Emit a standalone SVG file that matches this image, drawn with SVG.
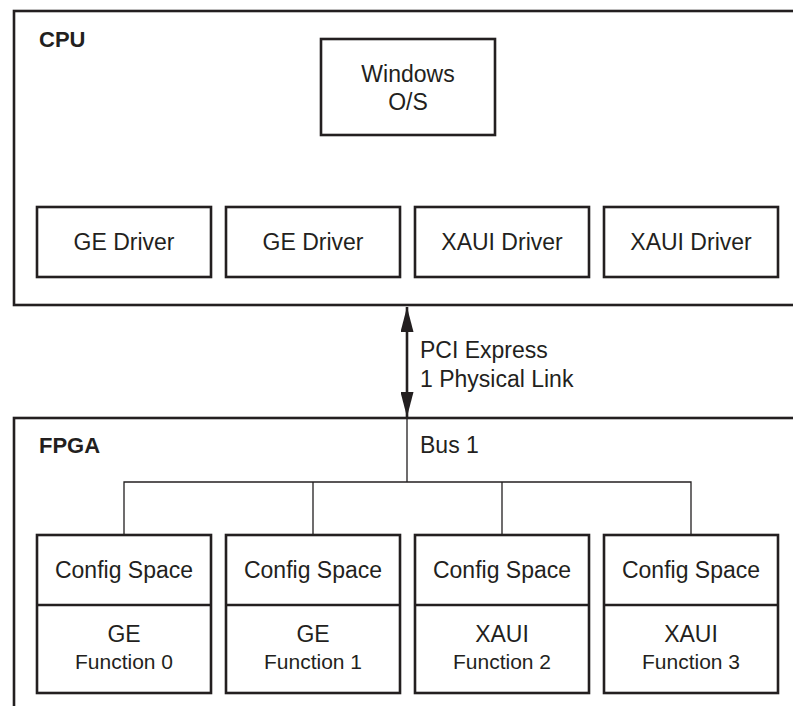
<svg xmlns="http://www.w3.org/2000/svg" width="793" height="706" viewBox="0 0 793 706">
<style>
.box{fill:#fff;stroke:#231f20;stroke-width:2.6}
.t{font-family:"Liberation Sans",Arial,sans-serif;font-size:23px;fill:#231f20;text-anchor:middle}
.s{font-family:"Liberation Sans",Arial,sans-serif;font-size:21px;fill:#231f20;text-anchor:middle}
.lbl{font-family:"Liberation Sans",Arial,sans-serif;font-size:22px;font-weight:bold;fill:#231f20}
.l{font-family:"Liberation Sans",Arial,sans-serif;font-size:23px;fill:#231f20}
.bus{fill:none;stroke:#231f20;stroke-width:1.3}
</style>
<defs>
<marker id="ah" viewBox="0 0 25 13" refX="25" refY="6.5" markerWidth="25" markerHeight="13" markerUnits="userSpaceOnUse" orient="auto-start-reverse">
<path d="M25 6.5 L0 0 L0 13 Z" fill="#231f20"/>
</marker>
</defs>
<rect width="793" height="706" fill="#fff"/>
<g id="cpu">
<rect class="box" x="14" y="11" width="800" height="294"/>
<text class="lbl" x="39" y="47">CPU</text>
</g>
<g id="windows">
<rect class="box" x="321" y="39" width="174" height="96"/>
<text class="t" x="408" y="82">Windows</text>
<text class="t" x="408" y="110">O/S</text>
</g>
<g id="ge-driver-1">
<rect class="box" x="37" y="207" width="174" height="70"/>
<text class="t" x="124" y="250">GE Driver</text>
</g>
<g id="ge-driver-2">
<rect class="box" x="226" y="207" width="174" height="70"/>
<text class="t" x="313" y="250">GE Driver</text>
</g>
<g id="xaui-driver-1">
<rect class="box" x="415" y="207" width="174" height="70"/>
<text class="t" x="502" y="250">XAUI Driver</text>
</g>
<g id="xaui-driver-2">
<rect class="box" x="604" y="207" width="174" height="70"/>
<text class="t" x="691" y="250">XAUI Driver</text>
</g>
<g id="fpga">
<rect class="box" x="14" y="418" width="800" height="300"/>
<text class="lbl" x="39" y="453">FPGA</text>
</g>
<g id="connectors">
<line x1="407" y1="307" x2="407" y2="417" stroke="#231f20" stroke-width="2.6" marker-start="url(#ah)" marker-end="url(#ah)"/>
<text class="l" x="420" y="358">PCI Express</text>
<text class="l" x="420" y="387">1 Physical Link</text>
<text class="l" x="420" y="453">Bus 1</text>
<path class="bus" d="M407 419 V482 M124 535 V482 H691 V535 M313 482 V535 M502 482 V535"/>
</g>
<g id="function-0">
<rect class="box" x="37" y="535" width="174" height="158"/>
<line x1="37" y1="605" x2="211" y2="605" stroke="#231f20" stroke-width="2.6"/>
<text class="t" x="124" y="578">Config Space</text>
<text class="t" x="124" y="642">GE</text>
<text class="s" x="124" y="669">Function 0</text>
</g>
<g id="function-1">
<rect class="box" x="226" y="535" width="174" height="158"/>
<line x1="226" y1="605" x2="400" y2="605" stroke="#231f20" stroke-width="2.6"/>
<text class="t" x="313" y="578">Config Space</text>
<text class="t" x="313" y="642">GE</text>
<text class="s" x="313" y="669">Function 1</text>
</g>
<g id="function-2">
<rect class="box" x="415" y="535" width="174" height="158"/>
<line x1="415" y1="605" x2="589" y2="605" stroke="#231f20" stroke-width="2.6"/>
<text class="t" x="502" y="578">Config Space</text>
<text class="t" x="502" y="642">XAUI</text>
<text class="s" x="502" y="669">Function 2</text>
</g>
<g id="function-3">
<rect class="box" x="604" y="535" width="174" height="158"/>
<line x1="604" y1="605" x2="778" y2="605" stroke="#231f20" stroke-width="2.6"/>
<text class="t" x="691" y="578">Config Space</text>
<text class="t" x="691" y="642">XAUI</text>
<text class="s" x="691" y="669">Function 3</text>
</g>
</svg>
